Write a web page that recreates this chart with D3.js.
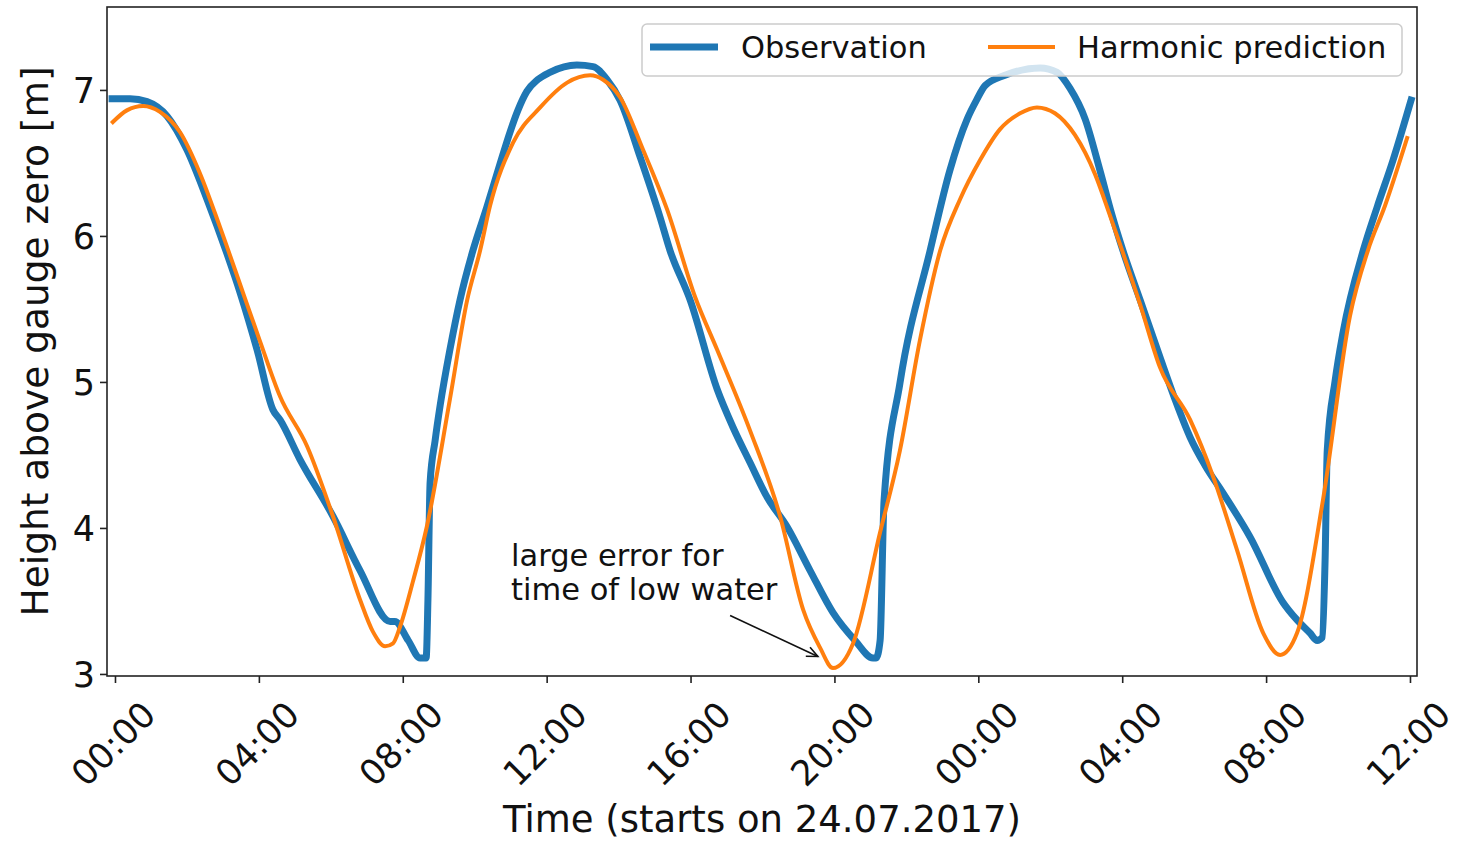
<!DOCTYPE html>
<html>
<head>
<meta charset="utf-8">
<script src="https://cdn.jsdelivr.net/npm/d3@7"></script>
<style>
  html, body { margin: 0; padding: 0; background: #fff; }
  svg { display: block; font-family: "DejaVu Sans", sans-serif; }
</style>
</head>
<body>
<svg id="chart" width="1458" height="842"></svg>
<script>
// ---- data (hours since 24.07.2017 00:00, height in m) ----
const obsHours = [-0.08,0.42,0.89,1.45,2.00,2.56,3.11,3.48,3.95,4.39,4.59,5.14,6.06,6.81,7.65,7.78,8.15,8.48,8.62,8.65,8.70,8.76,8.90,9.04,9.31,9.59,9.95,10.34,10.70,10.98,11.20,11.45,11.75,12.09,12.84,13.29,13.68,14.04,14.60,15.15,15.43,15.99,16.74,17.18,17.65,18.13,18.68,19.32,19.96,20.57,21.07,21.16,21.27,21.38,21.82,22.66,23.21,23.69,23.95,24.19,24.74,25.72,26.19,26.55,26.97,27.38,27.72,28.02,28.50,29.05,29.47,29.89,30.30,30.80,31.55,32.47,32.86,33.22,33.42,33.56,33.64,33.70,33.92,34.14,34.70,35.09,35.53,36.03];
const obsHeight = [6.94,6.94,6.92,6.82,6.59,6.25,5.88,5.61,5.22,4.81,4.74,4.47,4.08,3.71,3.36,3.36,3.23,3.11,3.11,3.11,3.51,4.31,4.60,4.84,5.22,5.56,5.90,6.20,6.49,6.71,6.86,6.99,7.07,7.12,7.17,7.16,7.07,6.93,6.54,6.13,5.90,5.56,4.95,4.69,4.45,4.21,4.01,3.71,3.42,3.23,3.11,3.11,3.23,4.19,4.99,5.90,6.45,6.80,6.93,7.03,7.10,7.15,7.12,7.01,6.80,6.45,6.14,5.90,5.56,5.17,4.88,4.62,4.43,4.24,3.94,3.49,3.37,3.28,3.23,3.25,3.78,4.53,5.01,5.34,5.90,6.20,6.52,6.93];

const predHours = [-0.06,0.33,0.78,1.25,1.81,2.36,2.92,3.56,4.03,4.59,5.34,6.06,6.81,7.17,7.51,7.73,7.92,8.29,8.67,9.31,9.79,10.15,10.43,11.07,11.82,12.57,13.21,13.57,14.04,14.68,15.35,16.13,16.74,17.65,18.49,19.13,19.60,19.96,20.52,21.27,21.82,22.38,22.94,23.49,24.05,24.60,25.16,25.63,26.13,26.69,27.25,27.66,28.00,28.50,29.05,29.89,30.53,31.19,31.92,32.39,32.86,33.58,34.33,34.83,35.31,35.92];
const predHeight = [6.78,6.86,6.89,6.85,6.71,6.43,6.06,5.61,5.28,4.90,4.56,4.08,3.51,3.29,3.19,3.21,3.32,3.64,4.01,4.88,5.56,5.90,6.21,6.64,6.88,7.05,7.10,7.07,6.95,6.59,6.18,5.58,5.22,4.67,4.08,3.44,3.18,3.04,3.21,3.97,4.53,5.29,5.90,6.25,6.52,6.73,6.84,6.88,6.84,6.69,6.42,6.14,5.90,5.53,5.10,4.74,4.35,3.85,3.28,3.13,3.28,4.19,5.45,5.90,6.21,6.67];

const xTickValues = [0,4,8,12,16,20,24,28,32,36];
const xTickLabels = ["00:00","04:00","08:00","12:00","16:00","20:00","00:00","04:00","08:00","12:00"];
const yTickValues = [3,4,5,6,7];
const seriesNames = ["Observation","Harmonic prediction"];
const seriesColors = ["#1f77b4","#ff7f0e"];
const annotationLines = ["large error for","time of low water"];
const annotationText = {h: 11.01, v: 3.74};
const annotationArrow = {fromH: 17.10, fromV: 3.40, toH: 19.54, toV: 3.12};

// ---- layout ----
const svg = d3.select("#chart");
const plot = {left: 107, right: 1417, top: 7, bottom: 676};

const x = d3.scaleLinear().domain([-0.222, 36.195]).range([plot.left, plot.right]);
const y = d3.scaleLinear().domain([2.986, 7.568]).range([plot.bottom, plot.top]);

svg.append("defs").append("clipPath").attr("id","clip")
  .append("rect").attr("x",plot.left).attr("y",plot.top)
  .attr("width",plot.right-plot.left).attr("height",plot.bottom-plot.top);

const obs = obsHours.map((h,i)=>({h, v: obsHeight[i]}));
const pred = predHours.map((h,i)=>({h, v: predHeight[i]}));

const line = d3.line().x(d=>x(d.h)).y(d=>y(d.v)).curve(d3.curveMonotoneX);

const g = svg.append("g").attr("clip-path","url(#clip)");
g.append("path").datum(obs).attr("d",line)
  .attr("fill","none").attr("stroke",seriesColors[0]).attr("stroke-width",7)
  .attr("stroke-linejoin","round").attr("stroke-linecap","square");
g.append("path").datum(pred).attr("d",line)
  .attr("fill","none").attr("stroke",seriesColors[1]).attr("stroke-width",4)
  .attr("stroke-linejoin","round").attr("stroke-linecap","square");

// ---- axes ----
const xAxis = d3.axisBottom(x).tickValues(xTickValues).tickSize(7).tickFormat((d,i)=>xTickLabels[i]);
const xg = svg.append("g").attr("transform",`translate(0,${plot.bottom})`).call(xAxis);
xg.select(".domain").remove();
xg.selectAll(".tick line").attr("stroke","#222").attr("stroke-width",1.6);
xg.selectAll(".tick text")
  .attr("font-size",35).attr("fill","#111").attr("font-family","DejaVu Sans")
  .attr("text-anchor","middle").attr("dominant-baseline","central")
  .attr("y",0).attr("dy",0)
  .attr("transform","translate(-2,68) rotate(-45)");

const yAxis = d3.axisLeft(y).tickValues(yTickValues).tickSize(7).tickFormat(d3.format("d"));
const yg = svg.append("g").attr("transform",`translate(${plot.left},0)`).call(yAxis);
yg.select(".domain").remove();
yg.selectAll(".tick line").attr("stroke","#222").attr("stroke-width",1.6);
yg.selectAll(".tick text")
  .attr("font-size",35).attr("fill","#111").attr("font-family","DejaVu Sans")
  .attr("x",-12).attr("dy","0.36em");

// frame
svg.append("rect").attr("x",plot.left).attr("y",plot.top)
  .attr("width",plot.right-plot.left).attr("height",plot.bottom-plot.top)
  .attr("fill","none").attr("stroke","#222").attr("stroke-width",1.6);

// axis labels
svg.append("text").attr("x",(plot.left+plot.right)/2).attr("y",832)
  .attr("text-anchor","middle").attr("font-size",37).attr("fill","#111")
  .text("Time (starts on 24.07.2017)");
svg.append("text").attr("transform",`translate(48,${(plot.top+plot.bottom)/2}) rotate(-90)`)
  .attr("text-anchor","middle").attr("font-size",37.5).attr("fill","#111")
  .text("Height above gauge zero [m]");

// annotation
svg.append("defs").append("marker").attr("id","arrow")
  .attr("viewBox","-12 -8 14 16").attr("refX",0).attr("refY",0)
  .attr("markerWidth",14).attr("markerHeight",16).attr("markerUnits","userSpaceOnUse")
  .attr("orient","auto")
  .append("path").attr("d","M-11,-5 L0,0 L-11,5").attr("fill","none")
  .attr("stroke","#111").attr("stroke-width",1.6);
svg.append("line")
  .attr("x1",x(annotationArrow.fromH)).attr("y1",y(annotationArrow.fromV))
  .attr("x2",x(annotationArrow.toH)).attr("y2",y(annotationArrow.toV))
  .attr("stroke","#111").attr("stroke-width",1.6).attr("marker-end","url(#arrow)");
const at = svg.append("text").attr("font-size",30.5).attr("fill","#111");
annotationLines.forEach((t,i)=>{
  at.append("tspan").attr("x",x(annotationText.h)).attr("y",y(annotationText.v)+i*34).text(t);
});

// legend
const lg = svg.append("g");
lg.append("rect").attr("x",642).attr("y",24).attr("width",760).attr("height",52)
  .attr("rx",5).attr("fill","#fff").attr("fill-opacity",0.8)
  .attr("stroke","#ccc").attr("stroke-width",1.5);
const legendItems = [
  {lx1:650, lx2:718, tx:741, w:7},
  {lx1:988, lx2:1055, tx:1077, w:4}
];
legendItems.forEach((it,i)=>{
  lg.append("line").attr("x1",it.lx1).attr("x2",it.lx2).attr("y1",47).attr("y2",47)
    .attr("stroke",seriesColors[i]).attr("stroke-width",it.w);
  lg.append("text").attr("x",it.tx).attr("y",47).attr("dy","0.36em")
    .attr("font-size",30.5).attr("fill","#111").text(seriesNames[i]);
});
</script>
</body>
</html>
